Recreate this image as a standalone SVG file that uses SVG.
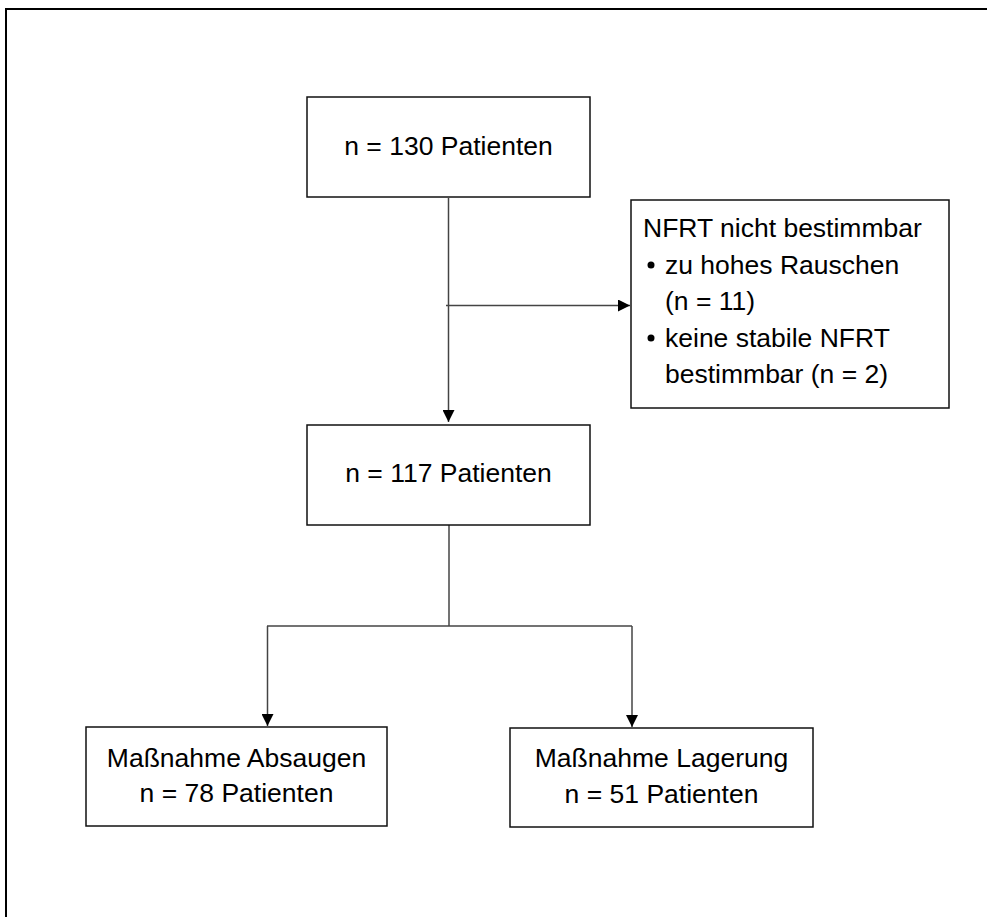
<svg xmlns="http://www.w3.org/2000/svg" width="987" height="917" viewBox="0 0 987 917">
<style>
.box{fill:#fff;stroke:#111;stroke-width:1.5}
.t{font-family:"Liberation Sans",Arial,sans-serif;font-size:26.5px;fill:#000}
.c{text-anchor:middle}
.ln{fill:none;stroke:#444;stroke-width:1.5}
</style>
<defs>
<marker id="ah" markerWidth="12" markerHeight="12" refX="12" refY="6" orient="auto" markerUnits="userSpaceOnUse">
<path d="M0,0 L12,6 L0,12 Z" fill="#000"/>
</marker>
</defs>
<rect x="0" y="0" width="987" height="917" fill="#fff"/>
<rect x="6" y="9" width="1000" height="930" fill="none" stroke="#000" stroke-width="2"/>
<g id="connectors">
<line class="ln" x1="448.5" y1="198" x2="448.5" y2="422" marker-end="url(#ah)"/>
<line class="ln" x1="446" y1="305.5" x2="630" y2="305.5" marker-end="url(#ah)"/>
<polyline class="ln" points="449,525 449,626"/>
<line class="ln" x1="267" y1="626" x2="632" y2="626"/>
<line class="ln" x1="267.5" y1="626" x2="267.5" y2="726" marker-end="url(#ah)"/>
<line class="ln" x1="632" y1="626" x2="632" y2="727" marker-end="url(#ah)"/>
</g>
<g id="n130">
<rect class="box" x="307" y="97" width="283" height="100"/>
<text class="t c" x="448.5" y="155">n = 130 Patienten</text>
</g>
<g id="excluded">
<rect class="box" x="631" y="200" width="318" height="208"/>
<text class="t" x="643" y="237">NFRT nicht bestimmbar</text>
<circle cx="651" cy="265" r="3.5" fill="#000"/>
<text class="t" x="665" y="273.5">zu hohes Rauschen</text>
<text class="t" x="665" y="310">(n = 11)</text>
<circle cx="651" cy="338" r="3.5" fill="#000"/>
<text class="t" x="665" y="346.5">keine stabile NFRT</text>
<text class="t" x="665" y="383">bestimmbar (n = 2)</text>
</g>
<g id="n117">
<rect class="box" x="307" y="425" width="283" height="100"/>
<text class="t c" x="448.5" y="482">n = 117 Patienten</text>
</g>
<g id="absaugen">
<rect class="box" x="86" y="727" width="301" height="99"/>
<text class="t c" x="236.5" y="767">Maßnahme Absaugen</text>
<text class="t c" x="236.5" y="802">n = 78 Patienten</text>
</g>
<g id="lagerung">
<rect class="box" x="510" y="728" width="303" height="99"/>
<text class="t c" x="661.5" y="767">Maßnahme Lagerung</text>
<text class="t c" x="661.5" y="803">n = 51 Patienten</text>
</g>
</svg>
